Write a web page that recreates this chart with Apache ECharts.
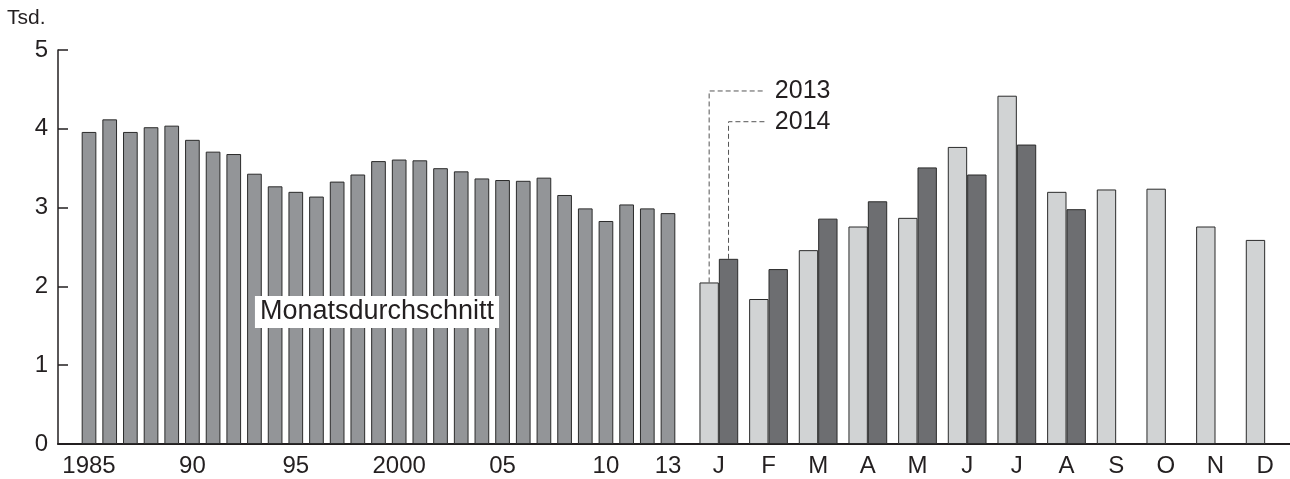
<!DOCTYPE html>
<html>
<head>
<meta charset="utf-8">
<script src="https://cdn.jsdelivr.net/npm/echarts@6/dist/echarts.min.js"></script>
<style>
html,body{margin:0;padding:0;background:#fff;}
#main{width:1290px;height:479px;}
</style>
</head>
<body>
<div id="main"></div>
<script>
// ---- data ----
const years = [1985,1986,1987,1988,1989,1990,1991,1992,1993,1994,1995,1996,1997,1998,1999,2000,2001,2002,2003,2004,2005,2006,2007,2008,2009,2010,2011,2012,2013];
const yearValues = [3.96,4.12,3.96,4.02,4.04,3.86,3.71,3.68,3.43,3.27,3.20,3.14,3.33,3.42,3.59,3.61,3.60,3.50,3.46,3.37,3.35,3.34,3.38,3.16,2.99,2.83,3.04,2.99,2.93];
const tickYears = [1985,1990,1995,2000,2005,2010,2013];
const tickTexts = ['1985','90','95','2000','05','10','13'];
const months = ['J','F','M','A','M','J','J','A','S','O','N','D'];
const values2013 = [2.05,1.84,2.46,2.76,2.87,3.77,4.42,3.20,3.23,3.24,2.76,2.59];
const values2014 = [2.35,2.22,2.86,3.08,3.51,3.42,3.80,2.98,null,null,null,null];
const seriesNames = ['2013','2014'];
const legendAnchorValues = [4.48,4.09];
const yTicks = [0,1,2,3,4,5];

const FONT = "'Liberation Sans', Arial, Helvetica, sans-serif";
const INK = '#231f20';

const cats1 = [''].concat(years.map(String)).concat(['']);
const vals1 = [null].concat(yearValues).concat([null]);
const labelMap = {};
tickYears.forEach((y,i)=>{ labelMap[String(y)] = tickTexts[i]; });

const chart = echarts.init(document.getElementById('main'), null, {renderer:'canvas'});

const option = {
  animation: false,
  backgroundColor: '#fff',
  textStyle: {fontFamily: FONT},
  grid: [
    {left: 58, top: 50, width: 641, height: 394},
    {left: 694, top: 50, width: 602, height: 394}
  ],
  xAxis: [
    {
      type: 'category', gridIndex: 0, data: cats1,
      axisLine: {lineStyle: {color: INK, width: 2}},
      axisTick: {show: false},
      axisLabel: {interval: 0, fontSize: 24, color: INK, fontFamily: FONT, margin: 10,
        formatter: v => labelMap[v] || ''}
    },
    {
      type: 'category', gridIndex: 1, data: months,
      axisLine: {lineStyle: {color: INK, width: 2}},
      axisTick: {show: false},
      axisLabel: {interval: 0, fontSize: 24, color: INK, fontFamily: FONT, margin: 10}
    }
  ],
  yAxis: [
    {
      type: 'value', gridIndex: 0, min: yTicks[0], max: yTicks[yTicks.length-1], interval: 1,
      axisLine: {show: true, lineStyle: {color: INK, width: 1.5}},
      axisTick: {show: true, inside: true, length: 10, lineStyle: {color: INK, width: 1.5}},
      splitLine: {show: false},
      axisLabel: {fontSize: 24, color: INK, fontFamily: FONT, margin: 10}
    },
    {
      type: 'value', gridIndex: 1, min: yTicks[0], max: yTicks[yTicks.length-1], interval: 1,
      show: false, splitLine: {show: false}
    }
  ],
  series: [
    {
      type: 'bar', name: 'Monatsdurchschnitt', xAxisIndex: 0, yAxisIndex: 0,
      data: vals1, barCategoryGap: '29%',
      itemStyle: {color: '#939598', borderColor: '#2b2b2b', borderWidth: 1}
    },
    {
      type: 'bar', name: seriesNames[0], xAxisIndex: 1, yAxisIndex: 1,
      data: values2013, barGap: '0%', barCategoryGap: '22%',
      itemStyle: {color: '#d1d3d4', borderColor: '#2b2b2b', borderWidth: 1}
    },
    {
      type: 'bar', name: seriesNames[1], xAxisIndex: 1, yAxisIndex: 1,
      data: values2014, barGap: '0%', barCategoryGap: '22%',
      itemStyle: {color: '#6d6e71', borderColor: '#2b2b2b', borderWidth: 1}
    }
  ]
};
chart.setOption(option);

// annotations computed from the axes
const p0 = chart.convertToPixel({xAxisIndex: 1, yAxisIndex: 1}, [0, 0]);
const pNext = chart.convertToPixel({xAxisIndex: 1, yAxisIndex: 1}, [1, 0]);
const band = pNext[0] - p0[0];
const barW = band * (1 - 0.22) / 2;
const centers = [p0[0] - barW/2, p0[0] + barW/2];
const tops = [
  chart.convertToPixel({xAxisIndex: 1, yAxisIndex: 1}, [0, values2013[0]])[1],
  chart.convertToPixel({xAxisIndex: 1, yAxisIndex: 1}, [0, values2014[0]])[1]
];
const endX = p0[0] + 46;
const graphics = [];
for (let i = 0; i < 2; i++) {
  const yy = chart.convertToPixel({xAxisIndex: 1, yAxisIndex: 1}, [0, legendAnchorValues[i]])[1];
  graphics.push({
    type: 'polyline', silent: true,
    shape: {points: [[centers[i], tops[i]], [centers[i], yy], [endX, yy]]},
    style: {stroke: '#555', lineWidth: 1, lineDash: [5, 3], fill: null}
  });
  graphics.push({
    type: 'text', silent: true, x: endX + 10, y: yy,
    style: {text: seriesNames[i], fontSize: 25, fontFamily: FONT, fill: INK,
      textAlign: 'left', textVerticalAlign: 'middle'}
  });
}
graphics.push({
  type: 'text', silent: true, x: 7, y: 8,
  style: {text: 'Tsd.', fontSize: 21, fontFamily: FONT, fill: INK, textAlign: 'left', textVerticalAlign: 'top'}
});
graphics.push({
  type: 'text', silent: true, x: 377, y: 312, z: 100,
  style: {text: 'Monatsdurchschnitt', fontSize: 27, fontFamily: FONT, fill: INK,
    textAlign: 'center', textVerticalAlign: 'middle',
    backgroundColor: '#fff', padding: [3, 5, 2, 5]}
});
chart.setOption({graphic: graphics});
</script>
</body>
</html>
